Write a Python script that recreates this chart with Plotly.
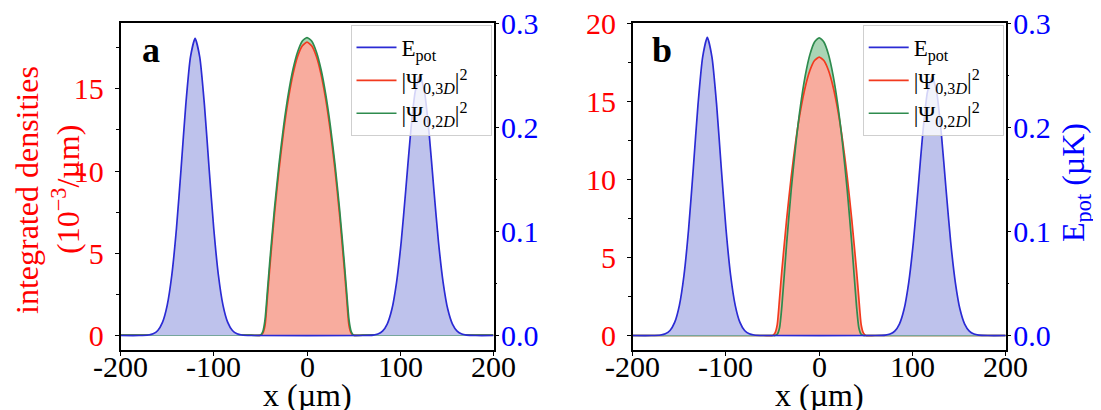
import plotly.graph_objects as go

# ---------------- data ----------------
x_tickvals = [-200, -100, 0, 100, 200]
x_ticktext = ["-200", "-100", "0", "100", "200"]

# potential E_pot (uK) sampled along x (um)
pot_x = [-200, -180, -170, -165, -160, -155, -150, -145, -140, -135, -130, -125, -120,
         -115, -110, -105, -100, -95, -90, -85, -80, -75, -70, -60,
         60, 71, 76, 81, 86, 91, 96, 101, 106, 111, 116, 121, 126, 131, 136, 141,
         146, 151, 156, 161, 166, 171, 181, 200]
pot_a = [0, 0, 0.0005, 0.0016, 0.0048, 0.0126, 0.0288, 0.058, 0.103, 0.161, 0.222, 0.268, 0.286,
         0.268, 0.222, 0.161, 0.103, 0.058, 0.0288, 0.0126, 0.0048, 0.0016, 0.0005, 0,
         0, 0.0004, 0.0014, 0.0042, 0.011, 0.0252, 0.051, 0.090, 0.141, 0.194, 0.2345, 0.250,
         0.2345, 0.194, 0.141, 0.090, 0.051, 0.0252, 0.011, 0.0042, 0.0014, 0.0004, 0, 0]
pot_b = [0, 0, 0.0005, 0.0016, 0.0048, 0.0126, 0.0288, 0.058, 0.103, 0.161, 0.222, 0.268, 0.287,
         0.268, 0.222, 0.161, 0.103, 0.058, 0.0288, 0.0126, 0.0048, 0.0016, 0.0005, 0,
         0, 0.0004, 0.0014, 0.0042, 0.011, 0.0252, 0.051, 0.090, 0.141, 0.194, 0.234, 0.249,
         0.234, 0.194, 0.141, 0.090, 0.051, 0.0252, 0.011, 0.0042, 0.0014, 0.0004, 0, 0]

# integrated densities (1e-3 / um)
dens_x = [-200, -60, -50, -47.5, -45, -42.5, -40, -35, -30, -25, -20, -15, -10, -5, 0,
          5, 10, 15, 20, 25, 30, 35, 40, 42.5, 45, 47.5, 50, 60, 200]
psi3d_a = [0, 0, 0, 0.12, 0.6, 2.28, 4.05, 7.29, 10.09, 12.46, 14.40, 15.91, 16.99, 17.63, 17.85,
           17.63, 16.99, 15.91, 14.40, 12.46, 10.09, 7.29, 4.05, 2.28, 0.6, 0.12, 0, 0, 0]
psi2d_a = [0, 0, 0, 0.2, 0.95, 2.65, 4.42, 7.63, 10.42, 12.77, 14.70, 16.20, 17.27, 17.92, 18.13,
           17.92, 17.27, 16.20, 14.70, 12.77, 10.42, 7.63, 4.42, 2.65, 0.95, 0.2, 0, 0, 0]
psi3d_b = [0, 0, 0, 0.15, 0.7, 2.4, 4.2, 7.4, 10.2, 12.55, 14.45, 15.93, 17.0, 17.64, 17.86,
           17.64, 17.0, 15.93, 14.45, 12.55, 10.2, 7.4, 4.2, 2.4, 0.7, 0.15, 0, 0, 0]
psi2d_b = [0, 0, 0, 0, 0.08, 0.5, 1.9, 5.84, 9.36, 12.33, 14.77, 16.66, 18.02, 18.83, 19.10,
           18.83, 18.02, 16.66, 14.77, 12.33, 9.36, 5.84, 1.9, 0.5, 0.08, 0, 0, 0, 0]

legend_names = ["E<sub>pot</sub>",
                "|Ψ<sub>0,3<i>D</i></sub>|<sup>2</sup>",
                "|Ψ<sub>0,2<i>D</i></sub>|<sup>2</sup>"]

# ---------------- styling ----------------
OFF = 8                      # page body margin of the html page
W, H = 1101 - OFF, 410 - OFF
FONT = "Liberation Serif, DejaVu Serif, serif"
BLUE_LINE = "#2b2bd4"
BLUE_FILL = "#bec2ec"
RED_LINE = "#f23a1e"
RED_FILL = "#f8ac9e"
GREEN_LINE = "#2e8b4e"
GREEN_FILL = "#a9d5b5"
PAD = "\u00a0\u00a0\u00a0"


def px(x):
    return (x - OFF) / W


def py(y):
    return 1 - (y - OFF) / H


# pixel geometry of the two frames (window pixels)
frames = {"a": (120.5, 493.5), "b": (632.7, 1005.7)}
y_top, y_bot = 23.3, 350.0
ydom = [py(y_bot), py(y_top)]

fig = go.Figure()


def add_panel(xref, yref, y2ref, legend, pot, p3, p2):
    fig.add_trace(go.Scatter(x=dens_x, y=p2, mode="none", fill="tozeroy", fillcolor=GREEN_FILL,
                             line_shape="spline", showlegend=False, xaxis=xref, yaxis=yref,
                             hoverinfo="skip"))
    fig.add_trace(go.Scatter(x=dens_x, y=p3, mode="none", fill="tozeroy", fillcolor=RED_FILL,
                             line_shape="spline", showlegend=False, xaxis=xref, yaxis=yref,
                             hoverinfo="skip"))
    fig.add_trace(go.Scatter(x=dens_x, y=p3, mode="lines",
                             line=dict(color=RED_LINE, width=1.7, shape="spline", smoothing=0.6),
                             name=legend_names[1] + PAD, legend=legend,
                             legendrank=2, xaxis=xref, yaxis=yref))
    fig.add_trace(go.Scatter(x=dens_x, y=p2, mode="lines",
                             line=dict(color=GREEN_LINE, width=1.7, shape="spline", smoothing=0.6),
                             name=legend_names[2] + PAD, legend=legend,
                             legendrank=3, xaxis=xref, yaxis=yref))
    fig.add_trace(go.Scatter(x=pot_x, y=pot, mode="lines", fill="tozeroy", fillcolor=BLUE_FILL,
                             line=dict(color=BLUE_LINE, width=1.7, shape="spline", smoothing=0.6),
                             showlegend=False, xaxis=xref, yaxis=y2ref, hoverinfo="skip"))
    fig.add_trace(go.Scatter(x=[None], y=[None], mode="lines",
                             line=dict(color=BLUE_LINE, width=1.7),
                             name=legend_names[0], legend=legend, legendrank=1,
                             xaxis=xref, yaxis=y2ref))


add_panel("x", "y", "y2", "legend", pot_a, psi3d_a, psi2d_a)
add_panel("x2", "y3", "y4", "legend2", pot_b, psi3d_b, psi2d_b)

TICK_SIZE = 30
tickfont_red = dict(family=FONT, size=TICK_SIZE, color="#ff0000")
tickfont_blue = dict(family=FONT, size=TICK_SIZE, color="#0000ff")


def xaxis_cfg(dom, anchor):
    return dict(domain=dom, anchor=anchor, range=[-200, 200], tickmode="array",
                tickvals=x_tickvals, showticklabels=False, ticks="outside", ticklen=4,
                tickwidth=1.2, tickcolor="black", showline=True, mirror=True,
                linecolor="black", linewidth=1.6, showgrid=False, zeroline=False,
                automargin=False)


def yleft_cfg(anchor, rng):
    return dict(domain=ydom, range=rng, anchor=anchor, tickmode="linear", tick0=0, dtick=5,
                ticks="outside", ticklen=4, tickwidth=1.2, tickcolor="black",
                minor=dict(tickmode="linear", tick0=0, dtick=2.5, ticks="outside", ticklen=2.5,
                           tickwidth=1, tickcolor="black", showgrid=False),
                showline=True, mirror=True, linecolor="black", linewidth=1.6,
                showgrid=False, zeroline=False, tickfont=tickfont_red,
                ticklabelstandoff=5, ticklabeloverflow="allow", automargin=False)


def yright_cfg(anchor, overlay):
    return dict(range=[-0.01396, 0.3005], anchor=anchor, overlaying=overlay, side="right",
                tickmode="linear", tick0=0, dtick=0.1, tickformat=".1f",
                ticks="outside", ticklen=4.5, tickwidth=1.2, tickcolor="black",
                minor=dict(tickmode="linear", tick0=0, dtick=0.05, ticks="outside", ticklen=2.5,
                           tickwidth=1, tickcolor="black", showgrid=False),
                showline=False, showgrid=False, zeroline=False, tickfont=tickfont_blue,
                ticklabelstandoff=-4, ticklabeloverflow="allow", automargin=False)


def legend_cfg(xright):
    return dict(x=px(xright - 2), y=py(25), xanchor="right", yanchor="top",
                bgcolor="rgba(255,255,255,0.8)", bordercolor="#cfcfcf", borderwidth=1,
                font=dict(family=FONT, size=23, color="black"), tracegroupgap=0,
                itemwidth=40)


fa, fb = frames["a"], frames["b"]
fig.update_layout(
    width=W, height=H,
    margin=dict(l=0, r=0, t=0, b=0, pad=0),
    paper_bgcolor="white", plot_bgcolor="white",
    font=dict(family=FONT, color="black"),
    xaxis=xaxis_cfg([px(fa[0]), px(fa[1])], "y"),
    xaxis2=xaxis_cfg([px(fb[0]), px(fb[1])], "y3"),
    yaxis=yleft_cfg("x", [-0.905, 19.0]),
    yaxis2=yright_cfg("x", "y"),
    yaxis3=yleft_cfg("x2", [-0.93, 20.03]),
    yaxis4=yright_cfg("x2", "y3"),
    legend=legend_cfg(fa[1]),
    legend2=legend_cfg(fb[1]),
    showlegend=True,
)

TITLE_SIZE = 32
ann = []
# x tick labels (placed through the x axes' data scale)
for xr in ("x", "x2"):
    for v, t in zip(x_tickvals, x_ticktext):
        ann.append(dict(text=t, x=v, xref=xr, y=py(366), yref="paper", showarrow=False,
                        xanchor="center", yanchor="middle",
                        font=dict(family=FONT, size=TICK_SIZE, color="black")))
ann.append(dict(text="<b>a</b>", x=px(150.5), y=py(50), xref="paper", yref="paper",
                showarrow=False, xanchor="center", yanchor="middle",
                font=dict(family=FONT, size=36, color="black")))
ann.append(dict(text="<b>b</b>", x=px(662), y=py(50), xref="paper", yref="paper",
                showarrow=False, xanchor="center", yanchor="middle",
                font=dict(family=FONT, size=36, color="black")))
for f in (fa, fb):
    ann.append(dict(text="x (µm)", x=px((f[0] + f[1]) / 2), y=py(395), xref="paper",
                    yref="paper", showarrow=False, xanchor="center", yanchor="middle",
                    font=dict(family=FONT, size=TITLE_SIZE, color="black")))
ann.append(dict(text="integrated densities", x=px(27), y=py(190), xref="paper", yref="paper",
                showarrow=False, textangle=-90, xanchor="center", yanchor="middle",
                font=dict(family=FONT, size=TITLE_SIZE, color="#ff0000")))
ann.append(dict(text="(10<sup>−3</sup>/µm)", x=px(66), y=py(190), xref="paper", yref="paper",
                showarrow=False, textangle=-90, xanchor="center", yanchor="middle",
                font=dict(family=FONT, size=TITLE_SIZE, color="#ff0000")))
ann.append(dict(text="E<sub>pot</sub> (µK)", x=px(1076), y=py(183), xref="paper",
                yref="paper", showarrow=False, textangle=-90, xanchor="center",
                yanchor="middle", font=dict(family=FONT, size=TITLE_SIZE, color="#0000ff")))
fig.update_layout(annotations=ann)

fig.write_html("out.html")
